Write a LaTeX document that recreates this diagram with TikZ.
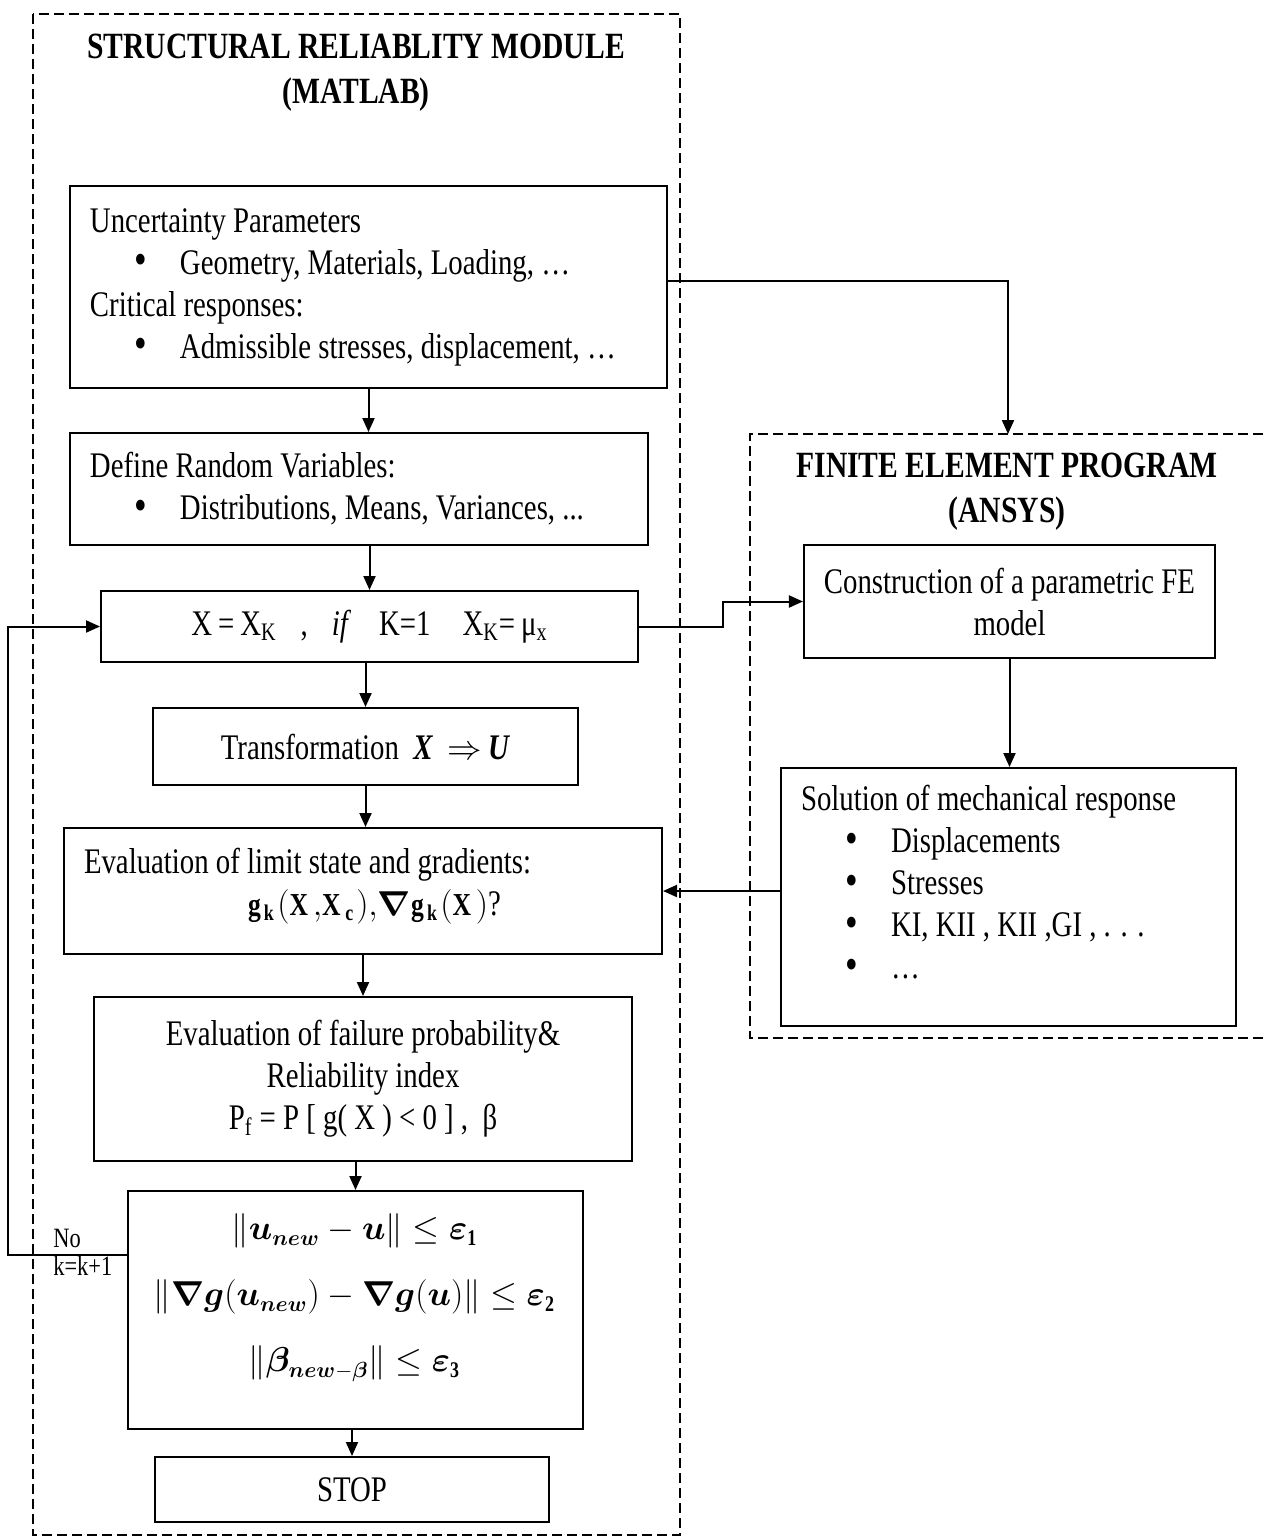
\documentclass[tikz,border=0pt]{standalone}
\usepackage{amsmath}
\usepackage{bm}
\usepackage{fontspec}
\setmainfont{Liberation Serif}[FakeStretch=0.8]
\usetikzlibrary{arrows.meta,positioning}
\newcommand{\itm}[1]{\makebox[45pt][l]{\hspace*{22pt}\raisebox{-0.3pt}{\scalebox{1.25}{\textbullet}}}#1}
\tikzset{
  blk/.style={draw, line width=1pt, inner xsep=10pt, inner ysep=0pt, font=\fontsize{18}{21}\selectfont},
  lblk/.style={blk, align=flush left},
  cblk/.style={blk, align=flush center},
  frame/.style={draw, line width=1.4pt, dash pattern=on 5pt off 2.5pt},
  ttl/.style={align=flush center, font=\fontsize{18.5}{22.5}\selectfont\bfseries},
  flow/.style={-{Triangle[length=7pt,width=6pt]}, line width=1pt},
  lbl/.style={font=\fontsize{14}{16}\selectfont, inner sep=0pt},
}
\begin{document}
\begin{tikzpicture}[x=0.5pt,y=-0.5pt]
\useasboundingbox (0,0) rectangle (1263,1538);
\draw[frame] (33,14) rectangle (680,1535);
\draw[frame] (1263,434) -- (750,434) -- (750,1038) -- (1263,1038);
\coordinate (fetop) at (1008,434);
\node[ttl] (srm) at (356,73) {STRUCTURAL RELIABLITY MODULE\\(MATLAB)};
\node[ttl] (fep) at (1007,492) {FINITE ELEMENT PROGRAM\\(ANSYS)};

\node[lblk, text width=278.5pt, minimum height=101pt] (unc) at (368.5,287) {Uncertainty Parameters\\
  \itm{Geometry, Materials, Loading, …}\\
  Critical responses:\\
  \itm{Admissible stresses, displacement, …}};
\node[lblk, text width=269pt, minimum height=56pt] (rv) at (359,489) {Define Random Variables:\\
  \itm{Distributions, Means, Variances, ...}};
\node[cblk, minimum width=268.5pt, minimum height=35.5pt] (xk) at (369.5,626.5)
  {X\,=\,X\textsubscript{K}\hspace{12pt},\hspace{12pt}\textit{if}\hspace{14pt}K=1\hspace{16pt}X\textsubscript{K}=\,μ\textsubscript{x}};
\node[cblk, minimum width=212.5pt, minimum height=38.5pt] (trf) at (365.5,746.5)
  {Transformation\ \ \textbf{\textit{X}}\ \ $\Rightarrow$\,\textbf{\textit{U}}};
\node[lblk, text width=279pt, minimum height=63pt] (lsg) at (363,891) {Evaluation of limit state and gradients:\\
  \hspace*{82pt}{\fontsize{16}{21}\selectfont$\mathbf{g}_{\mathbf{k}}(\mathbf{X}{,}\mathbf{X}_{\mathbf{c}}){,}\bm{\nabla}\mathbf{g}_{\mathbf{k}}(\mathbf{X})$}?\rule[-9pt]{0pt}{9pt}};
\node[cblk, minimum width=269pt, minimum height=82pt] (pf) at (363,1079) {Evaluation of failure probability\&\\
  Reliability index\\
  P\textsubscript{f} = P [ g( X ) < 0 ] ,\ \ β};
\node[cblk, minimum width=227.5pt, minimum height=119pt, font=\fontsize{16}{33}\selectfont] (conv) at (355.5,1310)
  {$\left\|\bm{u}_{\bm{new}}-\bm{u}\right\|\leq\bm{\varepsilon}_{\mathbf{1}}$\\
  $\left\|\bm{\nabla}\bm{g}(\bm{u}_{\bm{new}})-\bm{\nabla}\bm{g}(\bm{u})\right\|\leq\bm{\varepsilon}_{\mathbf{2}}$\\
  $\left\|\bm{\beta}_{\bm{new}-\bm{\beta}}\right\|\leq\bm{\varepsilon}_{\mathbf{3}}$\rule[-17pt]{0pt}{17pt}};
\node[cblk, minimum width=197pt, minimum height=32.5pt] (stop) at (352,1489.5) {STOP};

\node[cblk, minimum width=202.5pt, minimum height=56.5pt] (fem) at (1009.5,601.5) {Construction of a parametric FE\\model};
\node[lblk, text width=207.5pt, minimum height=129pt] (sol) at (1008.5,897) {Solution of mechanical response\\
  \itm{Displacements}\\
  \itm{Stresses}\\
  \itm{KI, KII , KII ,GI , . . .}\\
  \itm{…}\rule[-15pt]{0pt}{15pt}};

\node[lbl, anchor=base west] (no) at (53,1247) {No};
\node[lbl, anchor=base west] (kk) at (53,1275) {k=k+1};

\draw[flow] (unc.south) -- (unc.south |- rv.north);
\draw[flow] (xk.north |- rv.south) -- (xk.north);
\draw[flow] (trf.north |- xk.south) -- (trf.north);
\draw[flow] (trf.south) -- (trf.south |- lsg.north);
\draw[flow] (pf.north |- lsg.south) -- (pf.north);
\draw[flow] (conv.north |- pf.south) -- (conv.north);
\draw[flow] (stop.north |- conv.south) -- (stop.north);
\draw[flow] ([yshift=3pt]unc.east) -| (fetop);
\draw[flow] (xk.east) -- ++(42pt,0) |- (fem.west);
\draw[flow] (fem.south) -- (fem.south |- sol.north);
\draw[flow] (sol.west |- lsg.east) -- (lsg.east);
\draw[flow] ([yshift=27.5pt]conv.west) -- ++(-59.5pt,0) |- (xk.west);
\end{tikzpicture}
\end{document}
